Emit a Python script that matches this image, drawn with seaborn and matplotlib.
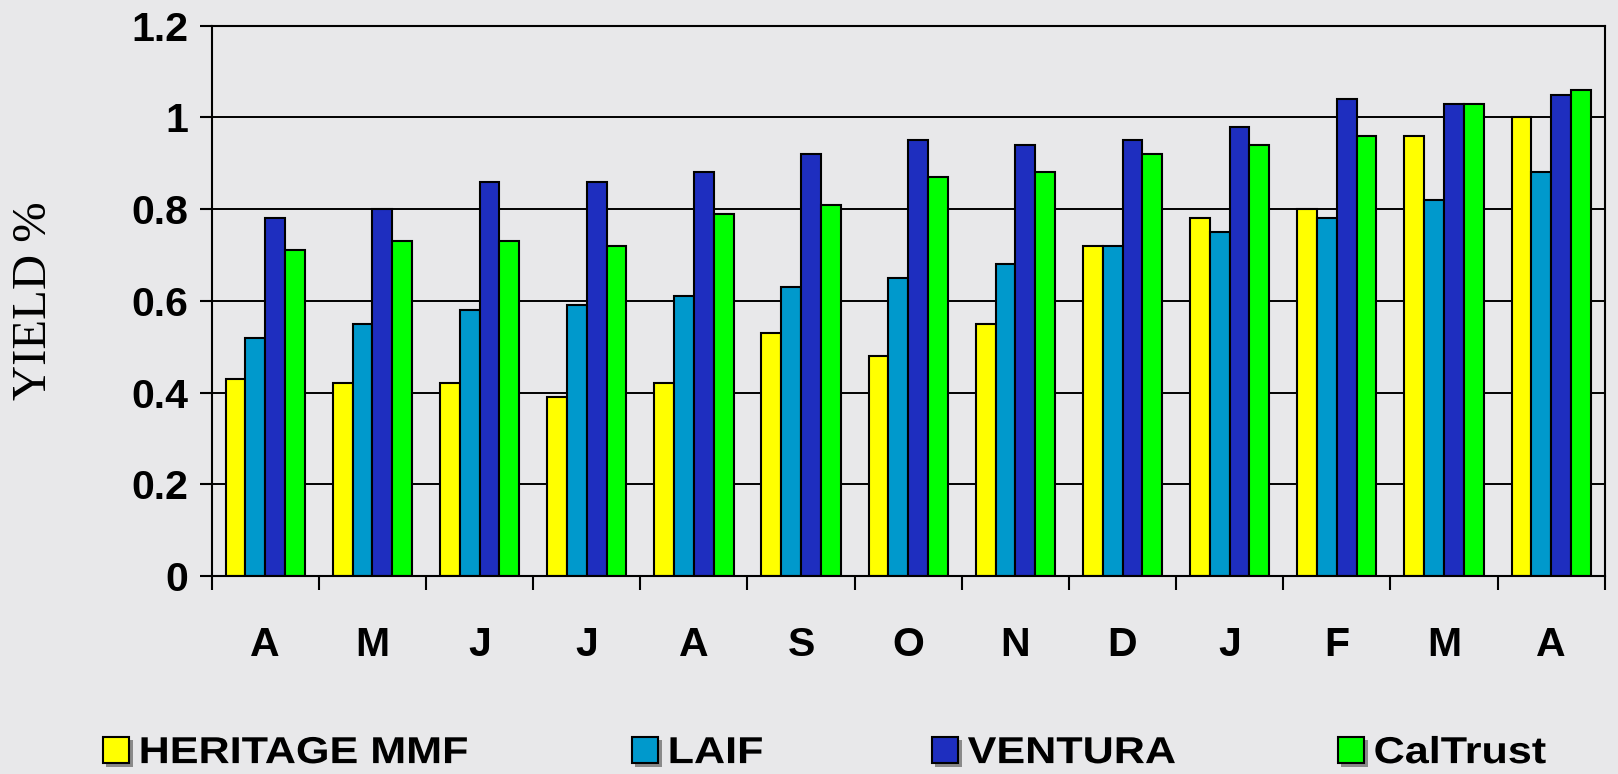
import numpy as np
import pandas as pd
import matplotlib
matplotlib.use("Agg")
import matplotlib.pyplot as plt
import matplotlib.patheffects as pe
from matplotlib.transforms import Affine2D
import seaborn as sns
from matplotlib.patches import Patch

# ---- data ----
periods = ["Apr-a", "May", "Jun", "Jul", "Aug", "Sep", "Oct", "Nov", "Dec", "Jan", "Feb", "Mar", "Apr-b"]
tick_labels = ["A", "M", "J", "J", "A", "S", "O", "N", "D", "J", "F", "M", "A"]
funds = ["HERITAGE MMF", "LAIF", "VENTURA", "CalTrust"]
heritage = [0.43, 0.42, 0.42, 0.39, 0.42, 0.53, 0.48, 0.55, 0.72, 0.78, 0.80, 0.96, 1.00]
laif = [0.52, 0.55, 0.58, 0.59, 0.61, 0.63, 0.65, 0.68, 0.72, 0.75, 0.78, 0.82, 0.88]
ventura = [0.78, 0.80, 0.86, 0.86, 0.88, 0.92, 0.95, 0.94, 0.95, 0.98, 1.04, 1.03, 1.05]
caltrust = [0.71, 0.73, 0.73, 0.72, 0.79, 0.81, 0.87, 0.88, 0.92, 0.94, 0.96, 1.03, 1.06]
y_ticks = [0, 0.2, 0.4, 0.6, 0.8, 1.0, 1.2]
colors = ["#FFFF00", "#0099CC", "#1E2EBF", "#00FF00"]

df = pd.DataFrame({
    "period": periods * 4,
    "fund": np.repeat(funds, len(periods)),
    "yield": heritage + laif + ventura + caltrust,
})


class HStretch(pe.AbstractPathEffect):
    """Stretch text horizontally about its origin."""
    def __init__(self, sx):
        super().__init__()
        self.sx = sx

    def draw_path(self, renderer, gc, tpath, affine, rgbFace=None):
        renderer.draw_path(gc, tpath, Affine2D().scale(self.sx, 1.0) + affine, rgbFace)


sns.set_theme(style="white")
plt.rcParams["font.family"] = ["Liberation Sans", "DejaVu Sans"]
plt.rcParams["text.color"] = "black"
plt.rcParams["xtick.color"] = "black"
plt.rcParams["ytick.color"] = "black"
plt.rcParams["axes.labelcolor"] = "black"

bg = "#E8E8EA"
fig = plt.figure(figsize=(16.18, 7.74), dpi=100, facecolor=bg)
ax = fig.add_axes([0.1308, 0.2559, 0.9918 - 0.1308, 0.9667 - 0.2559])
ax.set_facecolor("none")

sns.barplot(data=df, x="period", y="yield", hue="fund", order=periods, hue_order=funds,
            palette=colors, width=0.74, saturation=1, edgecolor="black", linewidth=1.5,
            legend=False, ax=ax, errorbar=None)

ax.set_xlim(-0.5, len(periods) - 0.5)
ax.set_ylim(0, 1.2)
ax.set_axisbelow(True)
ax.set_yticks(y_ticks)
ax.set_yticklabels([f"{v:g}" for v in y_ticks], fontsize=29.5, fontweight="bold")
ax.yaxis.grid(True, color="black", linewidth=1.4)
ax.xaxis.grid(False)

ax.set_xticks(np.arange(-0.5, len(periods), 1.0))
ax.set_xticklabels([])
ax.set_xticks(np.arange(len(periods)), minor=True)
ax.set_xticklabels(tick_labels, minor=True, fontsize=29.5, fontweight="bold")
ax.tick_params(axis="x", which="major", direction="out", length=10, width=1.5, color="black", bottom=True)
ax.tick_params(axis="x", which="minor", length=0, pad=36)
ax.tick_params(axis="y", direction="out", length=9, width=1.5, color="black", left=True, pad=8)

for s in ax.spines.values():
    s.set_visible(True)
    s.set_color("black")
    s.set_linewidth(1.5)

ax.set_xlabel("")
ax.set_ylabel("YIELD %", fontsize=35, family=["Liberation Serif", "DejaVu Serif"])
ax.yaxis.set_label_coords(-0.112, 0.5)

legend_x = [103, 632, 932, 1338]
for name, col, lx in zip(funds, colors, legend_x):
    h = Patch(facecolor=col, edgecolor="black", linewidth=1.5)
    leg = fig.legend([h], [name], loc="center left", bbox_to_anchor=(lx / 1618, 0.027),
                     frameon=False, borderpad=0, borderaxespad=0, handlelength=0.7,
                     handleheight=0.7, handletextpad=0.25,
                     prop={"size": 27, "weight": "bold"})
    for p in leg.get_patches():
        p.set_path_effects([pe.SimplePatchShadow(offset=(2.5, -2.5), shadow_rgbFace="#808080", alpha=0.9),
                            pe.Normal()])
    for t in leg.get_texts():
        t.set_path_effects([HStretch(1.15)])

fig.savefig("out.png", dpi=100, facecolor=bg)
